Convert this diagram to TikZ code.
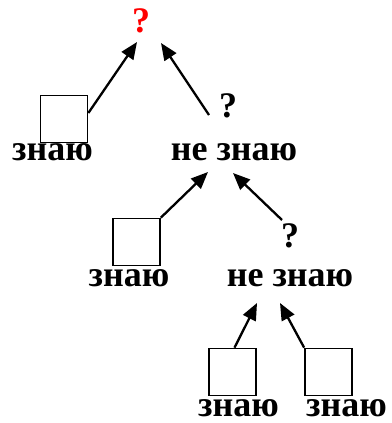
\documentclass[tikz,border=0pt]{standalone}
\usepackage{fontspec}
\setmainfont{Liberation Serif}
\usetikzlibrary{arrows.meta}
\begin{document}
\begin{tikzpicture}[x=1pt,y=-1pt,
  lbl/.style={font=\fontsize{36}{40}\selectfont\bfseries, inner sep=0pt, anchor=base},
  leaf/.style={draw, line width=1.7pt, minimum size=47pt, inner sep=0pt},
  link/.style={line width=2.3pt, -{Triangle[length=17pt,width=14pt]}}]
\useasboundingbox (0,0) rectangle (391,423);

% root question
\node[lbl, text=red] (q0) at (141,32) {?};

% level 1
\node[leaf] (b1) at (64,119) {};
\node[lbl] (k1) at (52.5,160) {знаю};
\node[lbl] (q1) at (228,117) {?};
\node[lbl] (n1) at (234,160) {не знаю};

% level 2
\node[leaf] (b2) at (136.5,242) {};
\node[lbl] (k2) at (129,286) {знаю};
\node[lbl] (q2) at (290,247) {?};
\node[lbl] (n2) at (290,286) {не знаю};

% level 3
\node[leaf] (b3) at (232.5,372) {};
\node[leaf] (b4) at (328.5,372) {};
\node[lbl] (k3) at (238.5,416) {знаю};
\node[lbl] (k4) at (346.5,416) {знаю};

% arrow ends
\coordinate (t1) at (137,42);
\coordinate (t2) at (161,43);
\coordinate (s2) at (209,115);
\coordinate (t3) at (208,172);
\coordinate (t4) at (233,173);
\coordinate (s4) at (282,220);
\coordinate (t5) at (257,303);
\coordinate (t6) at (280,303);

\draw[link] ([yshift=6pt]b1.east) -- (t1);
\draw[link] (s2) -- (t2);
\draw[link] (b2.north east) -- (t3);
\draw[link] (s4) -- (t4);
\draw[link] ([xshift=2pt]b3.north) -- (t5);
\draw[link] (b4.north west) -- (t6);
\end{tikzpicture}
\end{document}
